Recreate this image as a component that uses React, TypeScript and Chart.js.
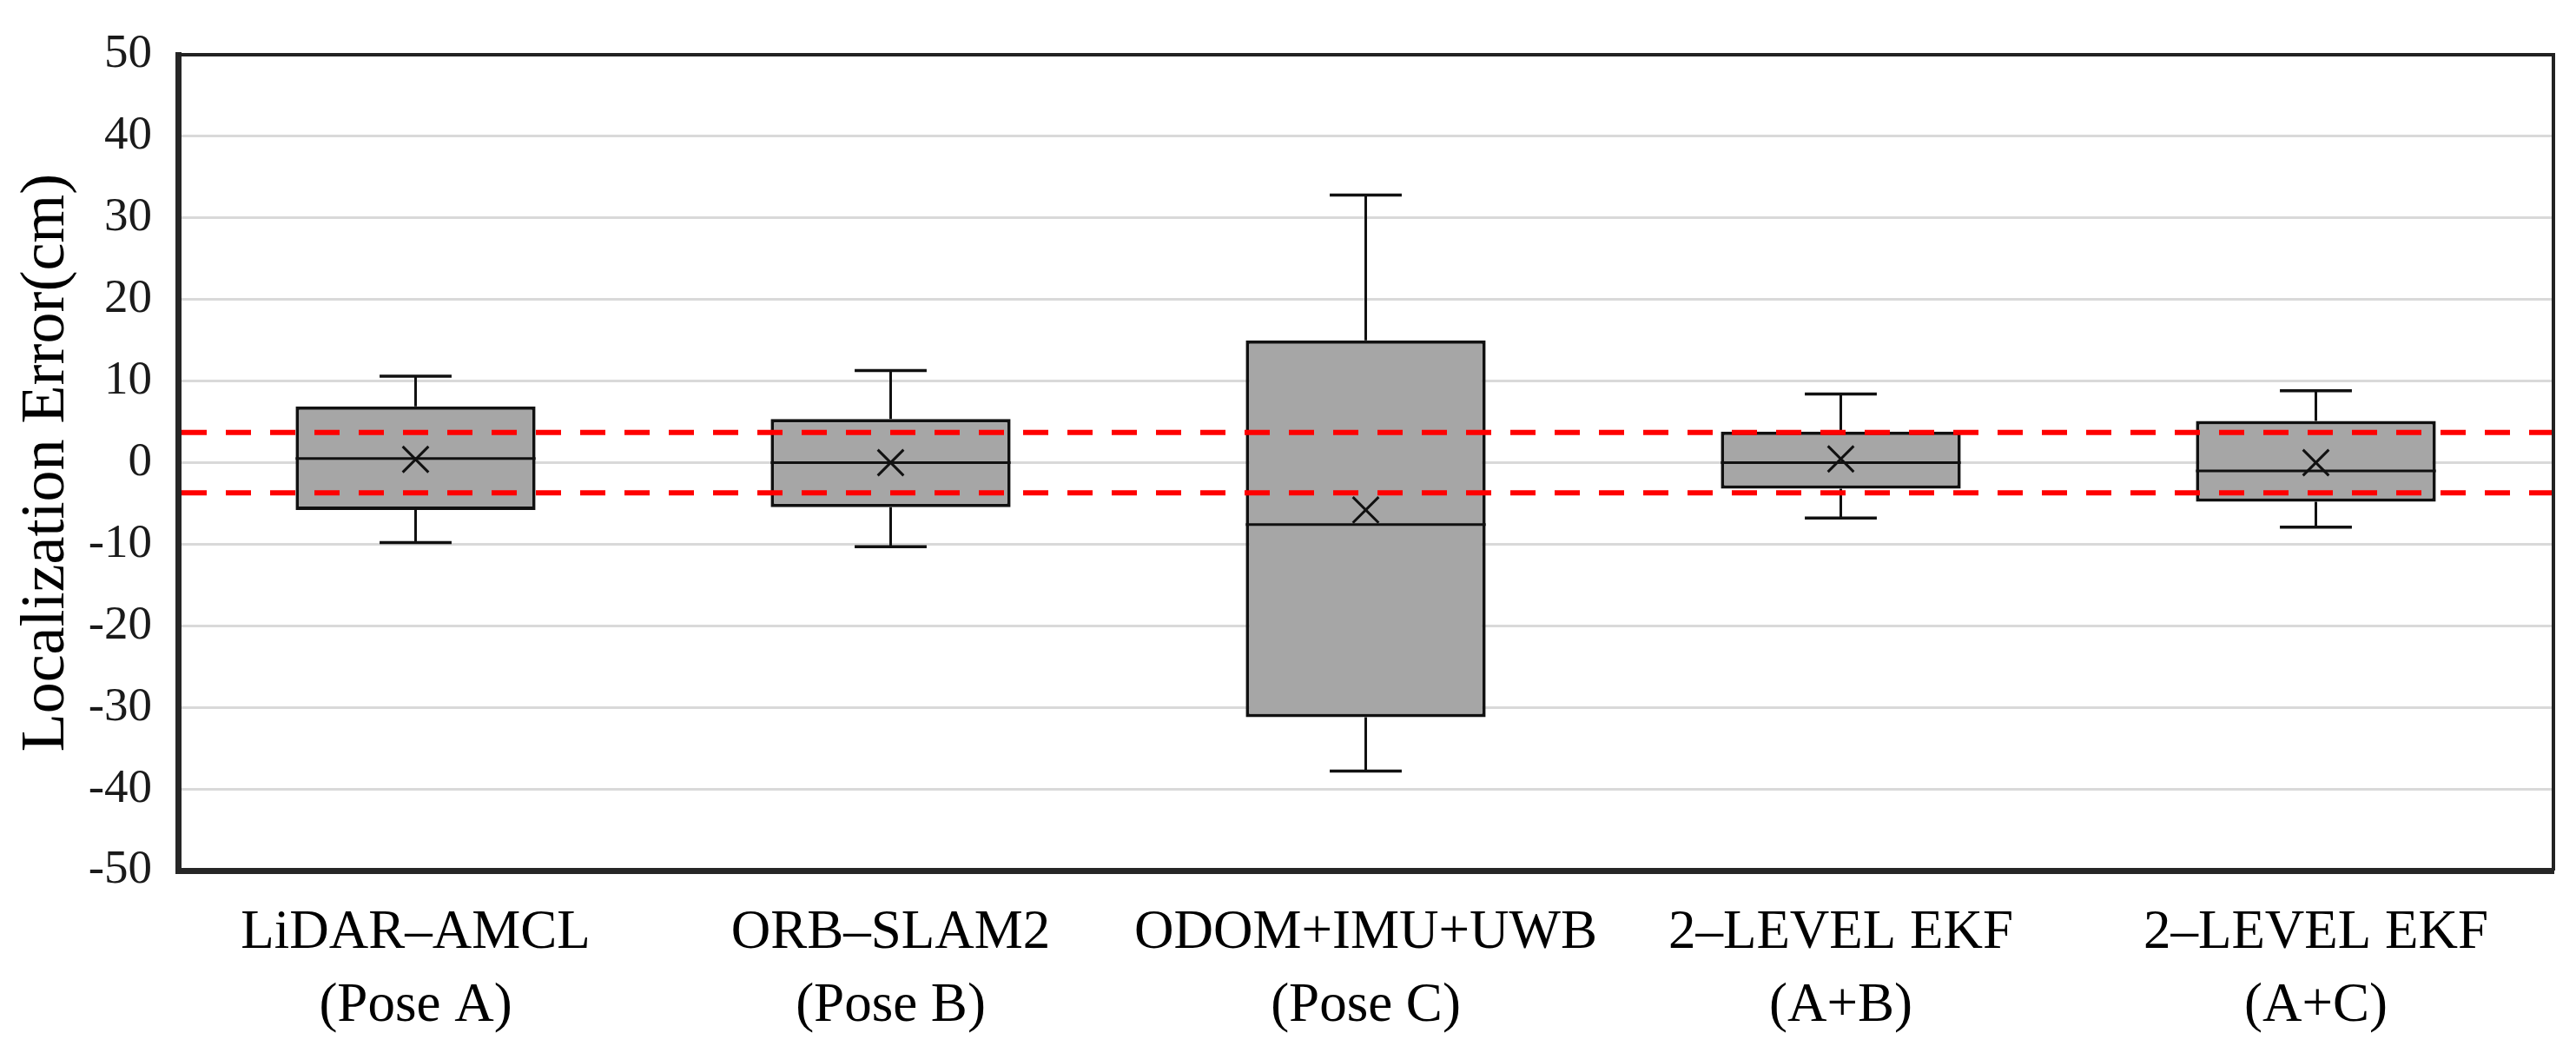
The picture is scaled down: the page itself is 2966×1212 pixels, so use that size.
import React, { useEffect, useRef } from "react";
import { Chart, registerables } from "chart.js";

Chart.register(...registerables);

// ---- data ----
const categories: string[][] = [
  ["LiDAR–AMCL", "(Pose A)"],
  ["ORB–SLAM2", "(Pose B)"],
  ["ODOM+IMU+UWB", "(Pose C)"],
  ["2–LEVEL EKF", "(A+B)"],
  ["2–LEVEL EKF", "(A+C)"],
];
const minValues = [-9.8, -10.3, -37.8, -6.8, -7.9];
const q1Values = [-5.8, -5.45, -31.2, -3.2, -4.8];
const medianValues = [0.5, 0.0, -7.6, 0.0, -1.0];
const q3Values = [6.9, 5.35, 15.0, 3.8, 5.1];
const maxValues = [10.6, 11.3, 32.8, 8.4, 8.8];
const meanValues = [0.4, 0.0, -5.8, 0.45, 0.0];
const thresholdValues = [3.7, -3.7];
const yTicks = { min: -50, max: 50, step: 10 };

const SERIF = "'Liberation Serif', 'Times New Roman', serif";

const boxExtras = {
  id: "boxExtras",
  beforeDatasetsDraw(chart: any) {
    const ctx = chart.ctx;
    const y = chart.scales.y;
    const meta = chart.getDatasetMeta(0);
    ctx.save();
    ctx.strokeStyle = "#111";
    ctx.lineWidth = 3;
    ctx.lineCap = "butt";
    meta.data.forEach((bar: any, i: number) => {
      const cx = bar.x;
      const capHalf = bar.width * 0.15;
      const yMin = y.getPixelForValue(minValues[i]);
      const yMax = y.getPixelForValue(maxValues[i]);
      const yQ1 = y.getPixelForValue(q1Values[i]);
      const yQ3 = y.getPixelForValue(q3Values[i]);
      ctx.beginPath();
      ctx.moveTo(cx, yMax);
      ctx.lineTo(cx, yQ3);
      ctx.moveTo(cx, yQ1);
      ctx.lineTo(cx, yMin);
      ctx.stroke();
      ctx.lineWidth = 3.5;
      ctx.beginPath();
      ctx.moveTo(cx - capHalf, yMax);
      ctx.lineTo(cx + capHalf, yMax);
      ctx.moveTo(cx - capHalf, yMin);
      ctx.lineTo(cx + capHalf, yMin);
      ctx.stroke();
      ctx.lineWidth = 3;
    });
    ctx.restore();
  },
  afterDatasetsDraw(chart: any) {
    const ctx = chart.ctx;
    const y = chart.scales.y;
    const area = chart.chartArea;
    const meta = chart.getDatasetMeta(0);
    ctx.save();
    // medians
    ctx.strokeStyle = "#111";
    ctx.lineWidth = 3;
    meta.data.forEach((bar: any, i: number) => {
      const py = y.getPixelForValue(medianValues[i]);
      ctx.beginPath();
      ctx.moveTo(bar.x - bar.width / 2, py);
      ctx.lineTo(bar.x + bar.width / 2, py);
      ctx.stroke();
    });
    // threshold dashed lines
    ctx.strokeStyle = "#ff0000";
    ctx.lineWidth = 6;
    ctx.setLineDash([29, 22]);
    thresholdValues.forEach((v) => {
      const py = y.getPixelForValue(v);
      ctx.beginPath();
      ctx.moveTo(area.left + 4, py);
      ctx.lineTo(area.right, py);
      ctx.stroke();
    });
    ctx.setLineDash([]);
    // top & right frame
    ctx.strokeStyle = "#222";
    ctx.lineWidth = 4;
    ctx.beginPath();
    ctx.moveTo(area.left, area.top);
    ctx.lineTo(area.right, area.top);
    ctx.lineTo(area.right, area.bottom);
    ctx.stroke();
    ctx.restore();
  },
};

export default function App() {
  const canvasRef = useRef<HTMLCanvasElement | null>(null);

  useEffect(() => {
    document.body.style.margin = "0";
    const canvas = canvasRef.current;
    if (!canvas) return;
    const chart = new Chart(canvas, {
      type: "bar",
      data: {
        labels: categories,
        datasets: [
          {
            type: "bar",
            label: "IQR",
            data: q1Values.map((q1, i) => [q1, q3Values[i]]),
            backgroundColor: "#a6a6a6",
            borderColor: "#111",
            borderWidth: 4,
            borderSkipped: false,
            categoryPercentage: 1,
            barPercentage: 0.505,
            order: 2,
          } as any,
          {
            type: "line",
            label: "Mean",
            data: meanValues,
            showLine: false,
            pointStyle: "crossRot",
            pointRadius: 21,
            pointBorderWidth: 3,
            pointBorderColor: "#111",
            pointBackgroundColor: "#111",
            order: 1,
          } as any,
        ],
      },
      options: {
        responsive: false,
        animation: false,
        devicePixelRatio: 1,
        layout: { padding: { top: 37, right: 26, bottom: 0, left: 0 } },
        plugins: {
          legend: { display: false },
          tooltip: { enabled: false },
        },
        scales: {
          x: {
            grid: { display: false, drawTicks: false },
            border: { display: true, color: "#262626", width: 7 },
            ticks: {
              color: "#000",
              font: { family: SERIF, size: 63, lineHeight: 1.34 },
              padding: 30,
              maxRotation: 0,
              autoSkip: false,
            },
            afterFit: (scale: any) => {
              scale.height = 210;
            },
          },
          y: {
            min: yTicks.min,
            max: yTicks.max,
            grid: { color: "#d9d9d9", lineWidth: 3, drawTicks: false },
            border: { display: true, color: "#262626", width: 7 },
            ticks: {
              stepSize: yTicks.step,
              color: "#1a1a1a",
              font: { family: SERIF, size: 55 },
              padding: 30,
            },
            title: {
              display: true,
              text: "Localization Error(cm)",
              color: "#000",
              font: { family: SERIF, size: 72 },
              padding: { top: 11, bottom: 0 },
            },
            afterFit: (scale: any) => {
              scale.width = 205;
            },
          },
        },
      },
      plugins: [boxExtras],
    });
    return () => chart.destroy();
  }, []);

  return (
    <div style={{ width: 2966, height: 1212, background: "#fff" }}>
      <canvas ref={canvasRef} width={2966} height={1212} style={{ display: "block" }} />
    </div>
  );
}
